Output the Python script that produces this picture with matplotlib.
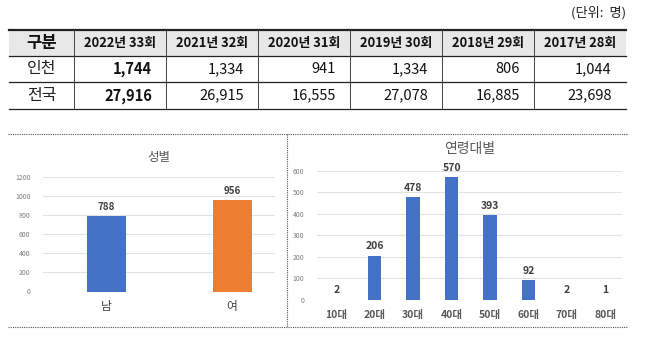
import matplotlib
matplotlib.use("Agg")
import matplotlib.pyplot as plt

plt.rcParams['font.family'] = ['Noto Sans CJK KR', 'DejaVu Sans']

# table data
header = ['구분', '2022년 33회', '2021년 32회', '2020년 31회', '2019년 30회', '2018년 29회', '2017년 28회']
row_names = ['인천', '전국']
incheon = [1744, 1334, 941, 1334, 806, 1044]
national = [27916, 26915, 16555, 27078, 16885, 23698]

# chart data
gender = ['남', '여']
gender_vals = [788, 956]
ages = ['10대', '20대', '30대', '40대', '50대', '60대', '70대', '80대']
age_vals = [2, 206, 478, 570, 393, 92, 2, 1]

W, H = 650, 338
fig = plt.figure(figsize=(W / 100, H / 100), dpi=100)

# background axes in pixel coords for table and borders
bg = fig.add_axes([0, 0, 1, 1])
bg.set_xlim(0, W)
bg.set_ylim(H, 0)
bg.axis('off')

bg.text(626, 13, '(단위:  명)', ha='right', va='center', fontsize=9.5, color='#222222')

x_left, x_first, x_right = 9, 74, 626
col_w = (x_right - x_first) / 6
cols = [x_left] + [x_first + i * col_w for i in range(7)]
ys = [30, 56, 82, 109]

bg.fill_between([x_left, x_right], ys[0], ys[1], color='#e7e7e7', lw=0)
bg.plot([x_left, x_right], [ys[0], ys[0]], color='#222222', lw=1.6)
for y in ys[1:]:
    bg.plot([x_left, x_right], [y, y], color='#222222', lw=0.9)
for x in cols[1:-1]:
    bg.plot([x, x], [ys[0], ys[3]], color='#444444', lw=0.7)

for i, h in enumerate(header):
    cx = (cols[i] + cols[i + 1]) / 2
    bg.text(cx, (ys[0] + ys[1]) / 2, h, ha='center', va='center',
            fontsize=12 if i == 0 else 9.3, fontweight='bold', color='#111111')

for r, (name, vals) in enumerate(zip(row_names, [incheon, national])):
    cy = (ys[r + 1] + ys[r + 2]) / 2
    bg.text((cols[0] + cols[1]) / 2, cy, name, ha='center', va='center', fontsize=11.5, color='#222222')
    for i, v in enumerate(vals):
        bg.text(cols[i + 2] - 14, cy, f'{v:,}', ha='right', va='center', fontsize=10.5,
                fontweight='bold' if i == 0 else 'normal', color='#111111')

# dotted chart frame
bg.plot([8, 627], [134, 134], color='#555555', lw=0.8, ls=(0, (1, 1)))
bg.plot([8, 627], [327, 327], color='#555555', lw=0.8, ls=(0, (1, 1)))
bg.plot([287, 287], [134, 327], color='#555555', lw=0.8, ls=(0, (1, 1)))

blue = '#4472c4'
orange = '#ed7d31'
grid_c = '#e3e3e3'
txt_c = '#595959'


def px_axes(x0, x1, y_top, y_bot):
    return fig.add_axes([x0 / W, 1 - y_bot / H, (x1 - x0) / W, (y_bot - y_top) / H])


def style(ax):
    for s in ax.spines.values():
        s.set_visible(False)
    ax.yaxis.grid(True, color=grid_c, lw=0.8)
    ax.set_axisbelow(True)
    ax.tick_params(length=0)


# gender chart
ax1 = px_axes(43, 275, 176.5, 291.5)
ax1.bar(range(len(gender)), gender_vals, width=0.31, color=[blue, orange])
ax1.set_xlim(-0.5, 1.34)
ax1.set_ylim(0, 1200)
ax1.set_yticks(range(0, 1201, 200))
style(ax1)
ax1.tick_params(axis='y', labelsize=5, labelcolor='#7f7f7f', pad=9)
ax1.set_xticks(range(len(gender)))
ax1.set_xticklabels(gender, fontsize=8.5, color='#404040')
ax1.tick_params(axis='x', pad=6)
for i, v in enumerate(gender_vals):
    ax1.text(i, v + 40, str(v), ha='center', va='bottom', fontsize=7, fontweight='bold', color='#404040')
bg.text(159, 157, '성별', ha='center', va='center', fontsize=9, color=txt_c)

# age chart
ax2 = px_axes(317, 622, 170.5, 300)
ax2.bar(range(len(ages)), age_vals, width=0.35, color=blue)
ax2.set_xlim(-0.5, 7.43)
ax2.set_ylim(0, 600)
ax2.set_yticks(range(0, 601, 100))
style(ax2)
ax2.tick_params(axis='y', labelsize=5, labelcolor='#7f7f7f', pad=9)
ax2.set_xticks(range(len(ages)))
ax2.set_xticklabels(ages, fontsize=7.5, color=txt_c, fontweight='bold')
ax2.tick_params(axis='x', pad=7)
for i, v in enumerate(age_vals):
    ax2.text(i, v + 20, str(v), ha='center', va='bottom', fontsize=7.5, fontweight='bold', color='#404040')
bg.text(470, 149, '연령대별', ha='center', va='center', fontsize=10, color=txt_c)

fig.savefig('out.png', dpi=100)
